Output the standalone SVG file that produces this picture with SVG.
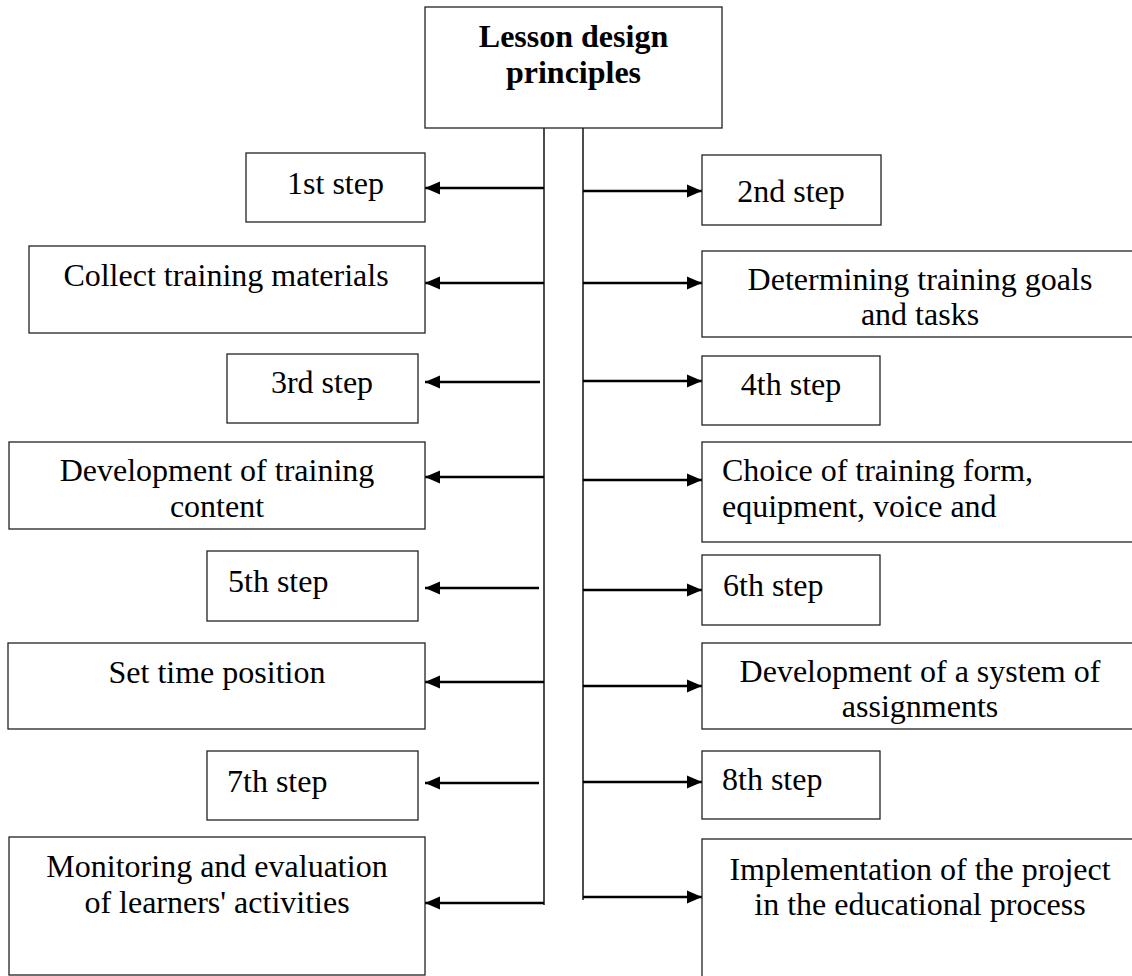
<svg xmlns="http://www.w3.org/2000/svg" width="1132" height="976" viewBox="0 0 1132 976">
<style>
.box{fill:#fff;stroke:#222;stroke-width:1.3}
.t{font-family:"Liberation Serif","Times New Roman",serif;font-size:32px;fill:#000}
.c{text-anchor:middle}
.b{font-weight:bold}
.trunk{stroke:#000;stroke-width:1.4;fill:none}
.arr{stroke:#000;stroke-width:2.4;fill:none;marker-end:url(#ah)}
</style>
<defs>
<marker id="ah" markerUnits="userSpaceOnUse" markerWidth="15" markerHeight="14" refX="15" refY="7" orient="auto">
<path d="M0,0.5 L15,7 L0,13.5 z" fill="#000"/>
</marker>
</defs>
<rect width="1132" height="976" fill="#fff"/>
<g id="connectors">
<line class="trunk" x1="544" y1="128" x2="544" y2="905"/>
<line class="trunk" x1="583" y1="128" x2="583" y2="900"/>
<line class="arr" x1="544" y1="188" x2="425" y2="188"/>
<line class="arr" x1="544" y1="283" x2="425" y2="283"/>
<line class="arr" x1="540" y1="382" x2="425" y2="382"/>
<line class="arr" x1="544" y1="477" x2="425" y2="477"/>
<line class="arr" x1="539" y1="588" x2="425" y2="588"/>
<line class="arr" x1="544" y1="682" x2="425" y2="682"/>
<line class="arr" x1="539" y1="783" x2="425" y2="783"/>
<line class="arr" x1="544" y1="903" x2="425" y2="903"/>
<line class="arr" x1="583" y1="191" x2="702" y2="191"/>
<line class="arr" x1="583" y1="283" x2="702" y2="283"/>
<line class="arr" x1="583" y1="381" x2="702" y2="381"/>
<line class="arr" x1="583" y1="480" x2="702" y2="480"/>
<line class="arr" x1="583" y1="590" x2="702" y2="590"/>
<line class="arr" x1="583" y1="686" x2="702" y2="686"/>
<line class="arr" x1="583" y1="782" x2="702" y2="782"/>
<line class="arr" x1="583" y1="897" x2="702" y2="897"/>
</g>
<g id="root">
<rect class="box" x="425" y="7" width="297" height="121"/>
<text class="t c b" x="573.5" y="47">Lesson design</text>
<text class="t c b" x="573.5" y="83">principles</text>
</g>
<g id="step1">
<rect class="box" x="246" y="153" width="179" height="69"/>
<text class="t c" x="335.5" y="194">1st step</text>
</g>
<g id="step2">
<rect class="box" x="702" y="155" width="179" height="70"/>
<text class="t c" x="791" y="202">2nd step</text>
</g>
<g id="collect">
<rect class="box" x="29" y="246" width="396" height="87"/>
<text class="t c" x="226" y="286">Collect training materials</text>
</g>
<g id="goals">
<rect class="box" x="702" y="251" width="440" height="86"/>
<text class="t c" x="920" y="290">Determining training goals</text>
<text class="t c" x="920" y="325">and tasks</text>
</g>
<g id="step3">
<rect class="box" x="227" y="354" width="191" height="69"/>
<text class="t c" x="322" y="393">3rd step</text>
</g>
<g id="step4">
<rect class="box" x="702" y="356" width="178" height="69"/>
<text class="t c" x="791" y="395">4th step</text>
</g>
<g id="content">
<rect class="box" x="9" y="442" width="416" height="87"/>
<text class="t c" x="217" y="481">Development of training</text>
<text class="t c" x="217" y="517">content</text>
</g>
<g id="choice">
<rect class="box" x="702" y="442" width="440" height="100"/>
<text class="t" x="722" y="481">Choice of training form,</text>
<text class="t" x="722" y="517">equipment, voice and</text>
</g>
<g id="step5">
<rect class="box" x="207" y="551" width="211" height="70"/>
<text class="t" x="228" y="592">5th step</text>
</g>
<g id="step6">
<rect class="box" x="702" y="555" width="178" height="70"/>
<text class="t" x="723" y="596">6th step</text>
</g>
<g id="time">
<rect class="box" x="8" y="643" width="417" height="86"/>
<text class="t c" x="217" y="683">Set time position</text>
</g>
<g id="assignments">
<rect class="box" x="702" y="643" width="440" height="86"/>
<text class="t c" x="920" y="682">Development of a system of</text>
<text class="t c" x="920" y="717">assignments</text>
</g>
<g id="step7">
<rect class="box" x="207" y="751" width="211" height="69"/>
<text class="t" x="227" y="792">7th step</text>
</g>
<g id="step8">
<rect class="box" x="702" y="751" width="178" height="68"/>
<text class="t" x="722" y="790">8th step</text>
</g>
<g id="monitoring">
<rect class="box" x="9" y="837" width="416" height="138"/>
<text class="t c" x="217" y="877">Monitoring and evaluation</text>
<text class="t c" x="217" y="913">of learners' activities</text>
</g>
<g id="implementation">
<rect class="box" x="702" y="839" width="440" height="150"/>
<text class="t c" x="920" y="880">Implementation of the project</text>
<text class="t c" x="920" y="915">in the educational process</text>
</g>
</svg>
